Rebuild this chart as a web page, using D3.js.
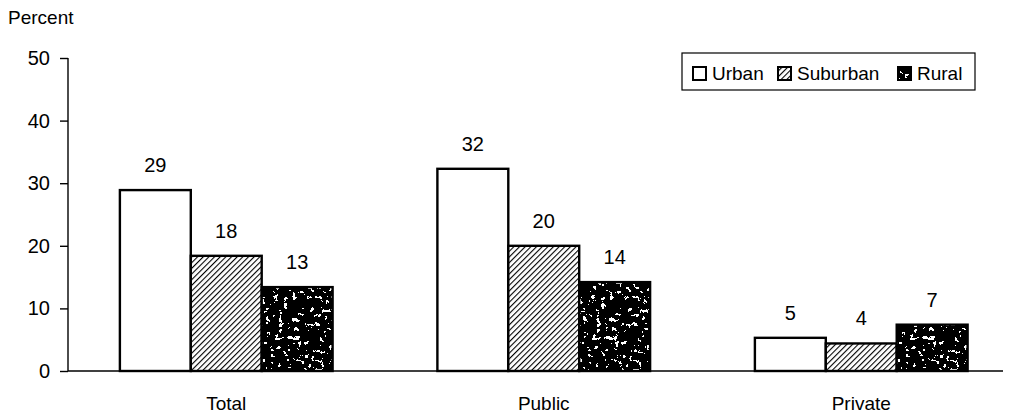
<!DOCTYPE html>
<html>
<head>
<meta charset="utf-8">
<script src="https://cdn.jsdelivr.net/npm/d3@7"></script>
<style>
  html, body { margin: 0; padding: 0; background: #fff; }
  svg { display: block; font-family: "Liberation Sans", Arial, sans-serif; }
</style>
</head>
<body>
<svg id="chart" width="1013" height="416"></svg>
<script>
// ---- data ----
const categories = ["Total", "Public", "Private"];
const seriesNames = ["Urban", "Suburban", "Rural"];
const urban = [28.9, 32.3, 5.3];
const suburban = [18.4, 20.0, 4.4];
const rural = [13.4, 14.2, 7.4];
const yTicks = [0, 10, 20, 30, 40, 50];
const yLabel = "Percent";

const seriesValues = [urban, suburban, rural];

const svg = d3.select("#chart");
const defs = svg.append("defs");

// hatch pattern for Suburban
const hatch = defs.append("pattern")
  .attr("id", "hatch")
  .attr("patternUnits", "userSpaceOnUse")
  .attr("width", 4).attr("height", 4)
  .attr("patternTransform", "rotate(45)");
hatch.append("rect").attr("width", 4).attr("height", 4).attr("fill", "#fff");
hatch.append("line").attr("x1", 0).attr("y1", 0).attr("x2", 0).attr("y2", 4)
  .attr("stroke", "#000").attr("stroke-width", 2.2);

// speckled noise filter for Rural
const f = defs.append("filter").attr("id", "speckle")
  .attr("x", 0).attr("y", 0).attr("width", 1).attr("height", 1)
  .attr("filterUnits", "objectBoundingBox");
f.append("feTurbulence").attr("type", "fractalNoise").attr("baseFrequency", 0.22)
  .attr("numOctaves", 3).attr("seed", 11).attr("result", "t");
f.append("feColorMatrix").attr("in", "t").attr("type", "matrix")
  .attr("values", "0 0 0 0 1  0 0 0 0 1  0 0 0 0 1  1 0 0 0 0").attr("result", "w");
const ct = f.append("feComponentTransfer").attr("in", "w").attr("result", "wt");
ct.append("feFuncA").attr("type", "discrete")
  .attr("tableValues", "0 0 0 0 0 0 0 0 0 0 0 0 0 1 1 1 1 1 1 1");
f.append("feComposite").attr("in", "wt").attr("in2", "SourceGraphic").attr("operator", "in").attr("result", "spots");
const fm = f.append("feMerge");
fm.append("feMergeNode").attr("in", "SourceGraphic");
fm.append("feMergeNode").attr("in", "spots");

const fills = ["#fff", "url(#hatch)", "#000"];
const filters = [null, null, "url(#speckle)"];

// ---- scales ----
const y = d3.scaleLinear().domain([0, 50]).range([371, 58]);
const x0 = d3.scaleBand().domain(categories).range([67.5, 1020])
  .paddingInner(0.33).paddingOuter(0.165);
const x1 = d3.scaleBand().domain(seriesNames).range([0, x0.bandwidth()]).padding(0);

// ---- axes ----
const yAxis = d3.axisLeft(y).tickValues(yTicks).tickSize(8).tickPadding(10);
const gy = svg.append("g").attr("transform", "translate(68,0)").call(yAxis);
gy.select(".domain").attr("stroke", "#000").attr("stroke-width", 1.4).attr("d", `M0,${y(50)}V${y(0)}`);
gy.selectAll(".tick line").attr("stroke", "#000").attr("stroke-width", 1.4);
gy.selectAll(".tick text").attr("font-size", 20).attr("fill", "#000")
  .attr("font-family", "'Liberation Sans', Arial, sans-serif");

svg.append("text").attr("x", 8).attr("y", 24).attr("font-size", 19).text(yLabel);

// baseline
svg.append("line").attr("x1", 68).attr("x2", 1003).attr("y1", y(0)).attr("y2", y(0))
  .attr("stroke", "#000").attr("stroke-width", 1.4);

// category labels
svg.selectAll("text.cat").data(categories).join("text")
  .attr("class", "cat")
  .attr("x", d => x0(d) + x0.bandwidth() / 2)
  .attr("y", 410)
  .attr("text-anchor", "middle")
  .attr("font-size", 19)
  .text(d => d);

// ---- bars ----
const groups = svg.selectAll("g.grp").data(categories).join("g")
  .attr("class", "grp")
  .attr("transform", d => `translate(${x0(d)},0)`);

seriesNames.forEach((s, si) => {
  groups.append("rect")
    .attr("x", x1(s))
    .attr("width", x1.bandwidth())
    .attr("y", (d, i) => y(seriesValues[si][i]))
    .attr("height", (d, i) => y(0) - y(seriesValues[si][i]))
    .attr("fill", fills[si])
    .attr("filter", filters[si]);
  groups.append("rect")
    .attr("x", x1(s))
    .attr("width", x1.bandwidth())
    .attr("y", (d, i) => y(seriesValues[si][i]))
    .attr("height", (d, i) => y(0) - y(seriesValues[si][i]))
    .attr("fill", "none")
    .attr("stroke", "#000")
    .attr("stroke-width", 2.4);
  groups.append("text")
    .attr("x", x1(s) + x1.bandwidth() / 2)
    .attr("y", (d, i) => y(seriesValues[si][i]) - 18)
    .attr("text-anchor", "middle")
    .attr("font-size", 20)
    .text((d, i) => Math.round(seriesValues[si][i]));
});

// ---- legend ----
const lg = svg.append("g");
lg.append("rect").attr("x", 682).attr("y", 53).attr("width", 293).attr("height", 37)
  .attr("fill", "#fff").attr("stroke", "#000").attr("stroke-width", 1.2);
const legendX = [693, 778, 898];
seriesNames.forEach((s, si) => {
  lg.append("rect").attr("x", legendX[si]).attr("y", 67).attr("width", 13).attr("height", 13)
    .attr("fill", fills[si]).attr("filter", filters[si]);
  lg.append("rect").attr("x", legendX[si]).attr("y", 67).attr("width", 13).attr("height", 13)
    .attr("fill", "none").attr("stroke", "#000").attr("stroke-width", 2);
  lg.append("text").attr("x", legendX[si] + 19).attr("y", 80).attr("font-size", 19).text(s);
});
</script>
</body>
</html>
